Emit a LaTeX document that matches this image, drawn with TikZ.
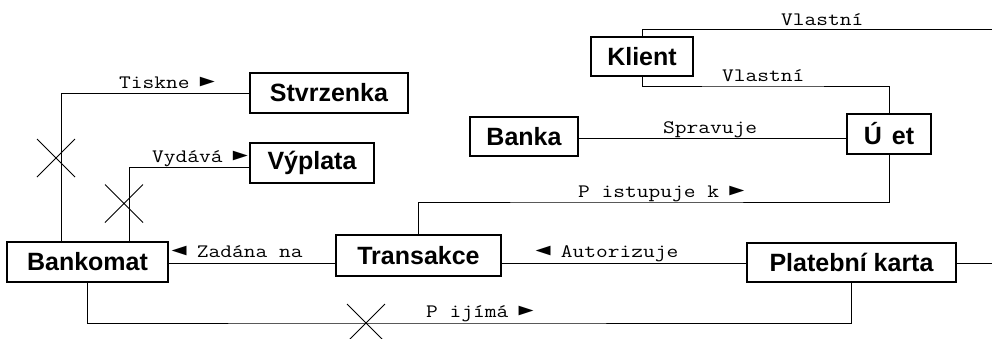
\documentclass[tikz,border=0pt]{standalone}
\usepackage{fontspec}
\setmainfont{Liberation Sans}
\setmonofont[FakeStretch=1.2]{Latin Modern Mono}
\newfontfamily\trifont{DejaVu Sans Mono}
\newcommand{\rtri}{\makebox[11.97pt][c]{\trifont\fontsize{25}{19}\selectfont ►}}
\newcommand{\ltri}{\makebox[11.97pt][c]{\trifont\fontsize{25}{19}\selectfont ◄}}
\begin{document}
\begin{tikzpicture}[x=1pt,y=-1pt,
  ent/.style={draw, line width=1.2pt, font=\bfseries\fontsize{25}{25}\selectfont, inner sep=0pt, minimum height=40pt},
  conn/.style={line width=0.9pt},
  lbl/.style={font=\ttfamily\fontsize{19}{19}\selectfont, anchor=base west, inner sep=0pt},
  xmark/.pic={\draw[line width=0.9pt] (-19,-19) -- (19,19) (19,-19) -- (-19,19);}
  ]
\useasboundingbox (0,0) rectangle (992,338);

% entities
\node[ent, minimum width=158pt] (stv) at (329,93) {Stvrzenka};
\node[ent, minimum width=124pt] (vyp) at (312,163) {Výplata};
\node[ent, minimum width=161pt] (bank) at (87.5,262) {Bankomat};
\node[ent, minimum width=165pt, minimum height=41pt] (trans) at (418.5,255.5) {Transakce};
\node[ent, minimum width=209pt, minimum height=39pt] (karta) at (851.5,262.5) {Platební karta};
\node[ent, minimum width=84pt] (ucet) at (889,134) {Ú\hspace{0.4em}et};
\node[ent, minimum width=108pt, minimum height=39pt] (banka) at (524,136.5) {Banka};
\node[ent, minimum width=102pt, minimum height=39pt] (klient) at (642,56.5) {Klient};

% helper coordinates
\coordinate (zt) at ([yshift=-7.5pt]trans.west);
\coordinate (at) at ([yshift=-7.5pt]trans.east);
\coordinate (kr) at (992,263);
\coordinate (pj) at (366,323);
\coordinate (ps) at (600,202);
\coordinate (sp) at (700,138);
\coordinate (vl) at (760,86);
\coordinate (vu) at (992,29.5);
\coordinate (x1) at (56,158);
\coordinate (x2) at (124,203.5);

% connectors
\draw[conn] ([xshift=-26.5pt]bank.north) |- (stv.west);
\draw[conn] ([xshift=42pt]bank.north) |- ([yshift=-4.5pt]vyp.west);
\draw[conn] (zt) -- (bank.east |- zt);
\draw[conn] (at) -- (karta.west |- at);
\draw[conn] (karta.east |- kr) -- (kr);
\draw[conn] (bank.south) |- (pj) -| (karta.south);
\draw[conn] (trans.north) |- (ps) -| (ucet.south);
\draw[conn] (banka.east |- sp) -- (ucet.west |- sp);
\draw[conn] (klient.south) |- (vl) -| (ucet.north);
\draw[conn] (klient.north) |- (vu);

% crosses
\pic at (x1) {xmark};
\pic at (x2) {xmark};
\pic at (pj) {xmark};

% labels
\node[lbl] (l1) at (119,88) {Tiskne \rtri};
\node[lbl] (l2) at (152,162) {Vydává \rtri};
\node[lbl] (l3) at (173,257) {\ltri{} Zadána na};
\node[lbl] (l4) at (537,257) {\ltri{} Autorizuje};
\node[lbl] (l5) at (578,197) {P istupuje k \rtri};
\node[lbl] (l6) at (426,317) {P ijímá \rtri};
\node[lbl] (l7) at (663,133) {Spravuje};
\node[lbl] (l8) at (722,81) {Vlastní};
\node[lbl] (l9) at (781,25) {Vlastní};
\end{tikzpicture}
\end{document}
